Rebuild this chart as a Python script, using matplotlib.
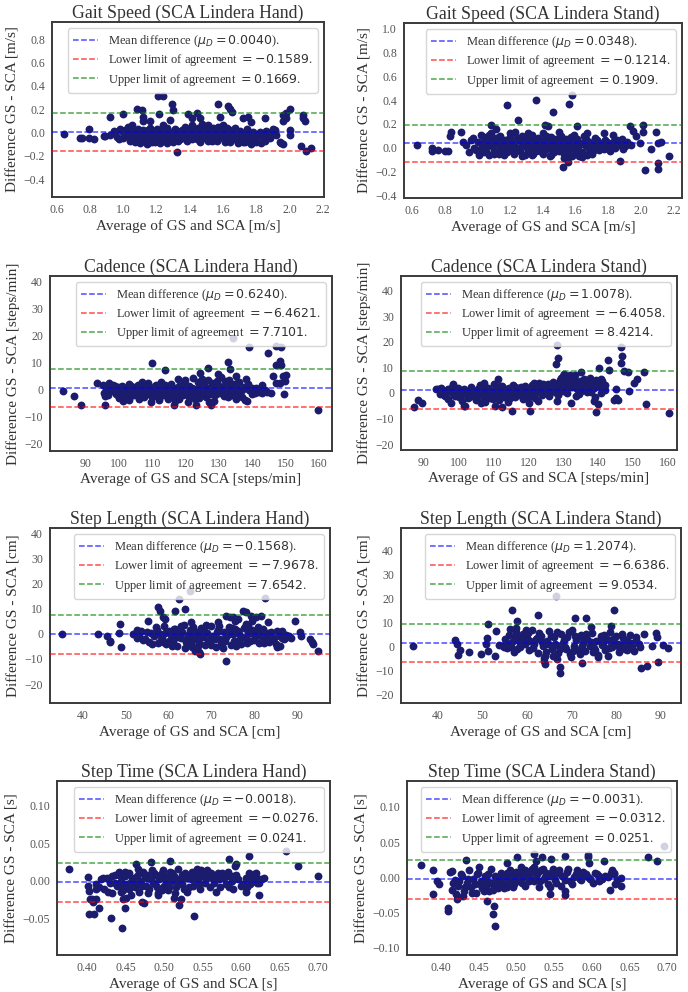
import numpy as np
import matplotlib
matplotlib.use("Agg")
import matplotlib.pyplot as plt

# (average, difference) pairs

# Gait speed, SCA Lindera hand
gs_hand = [
    (0.64, -0.01), (0.736, -0.05), (0.75, -0.05), (0.79, -0.05), (0.79, 0.03), (0.82, -0.06),
    (0.88, -0.03), (0.92, 0.13), (1.0, 0.16), (1.08, 0.20), (1.11, 0.19), (1.12, 0.13),
    (1.12, 0.10), (1.16, 0.10), (1.21, 0.31), (1.24, 0.31), (1.216, 0.16), (1.24, 0.06),
    (1.29, 0.24), (1.30, 0.19), (1.28, 0.105), (1.32, -0.17), (1.39, 0.16), (1.41, 0.12),
    (1.44, 0.17), (1.46, 0.12), (1.57, 0.245), (1.58, 0.13), (1.63, 0.23), (1.64, 0.2),
    (1.65, 0.175), (1.72, 0.12), (1.75, 0.13), (1.77, 0.09), (1.85, 0.12), (1.91, 0.02),
    (1.96, 0.10), (1.97, 0.13), (1.98, 0.17), (1.96, 0.15), (1.98, 0.12), (2.0, 0.20),
    (2.0, 0.02), (2.0, -0.02), (1.95, -0.09), (1.96, -0.1), (2.08, 0.15), (2.08, 0.12),
    (2.09, 0.1), (2.07, -0.12), (2.1, -0.16), (2.13, -0.13),
    (0.89, -0.03), (0.92, -0.02), (0.94, 0.01), (0.96, -0.04), (0.98, 0.03), (1.0, -0.05),
    (1.01, 0.02), (1.02, -0.01), (1.03, 0.05), (1.04, -0.07), (1.05, 0.06), (1.06, -0.03),
    (1.07, 0.0), (1.08, -0.06), (1.09, 0.03), (1.10, -0.09), (1.11, -0.02), (1.12, 0.02),
    (1.12, -0.07), (1.13, -0.04), (1.14, 0.01), (1.14, -0.1), (1.15, -0.06), (1.16, 0.04),
    (1.16, -0.02), (1.17, -0.08), (1.18, 0.0), (1.19, -0.05), (1.2, 0.03), (1.21, -0.03),
    (1.22, -0.09), (1.23, 0.01), (1.24, -0.06), (1.25, -0.02), (1.26, 0.04), (1.27, -0.07),
    (1.28, -0.03), (1.29, 0.0), (1.30, -0.08), (1.31, 0.03), (1.32, -0.04), (1.33, -0.01),
    (1.34, -0.06), (1.35, 0.02), (1.36, -0.03), (1.37, 0.05), (1.38, -0.07), (1.39, 0.0),
    (1.40, -0.04), (1.41, 0.06), (1.42, -0.02), (1.43, 0.02), (1.44, -0.06), (1.45, 0.04),
    (1.46, -0.01), (1.47, 0.07), (1.48, -0.05), (1.49, 0.01), (1.50, 0.05), (1.51, -0.03),
    (1.52, 0.02), (1.53, -0.07), (1.54, 0.04), (1.55, -0.02), (1.56, 0.0), (1.57, -0.06),
    (1.58, 0.03), (1.59, -0.03), (1.60, 0.06), (1.61, -0.08), (1.62, 0.0), (1.63, -0.04),
    (1.64, 0.02), (1.66, -0.06), (1.67, 0.04), (1.68, -0.02), (1.69, -0.09), (1.70, 0.01),
    (1.72, -0.05), (1.73, -0.08), (1.74, 0.03), (1.76, -0.03), (1.77, -0.1), (1.78, 0.0),
    (1.80, -0.06), (1.81, -0.02), (1.83, -0.09), (1.84, -0.04), (1.86, 0.01), (1.88, -0.05),
    (1.90, 0.03), (1.92, -0.02), (1.94, -0.08),
    (0.95, 0.0), (0.97, -0.06), (0.99, 0.01), (1.01, -0.03), (1.03, -0.02), (1.05, 0.02),
    (1.07, -0.08), (1.09, -0.01), (1.10, 0.01), (1.11, -0.05), (1.13, 0.0), (1.14, -0.03),
    (1.15, -0.09), (1.15, 0.02), (1.17, -0.04), (1.18, -0.06), (1.19, 0.01), (1.20, -0.07),
    (1.22, -0.02), (1.23, -0.05), (1.25, 0.02), (1.26, -0.09), (1.27, 0.0), (1.29, -0.05),
    (1.30, -0.02), (1.32, 0.01), (1.33, -0.07), (1.35, -0.05), (1.36, 0.01), (1.38, -0.02),
    (1.40, 0.03), (1.41, -0.06), (1.43, -0.04), (1.44, 0.0), (1.46, -0.08), (1.47, 0.02),
    (1.48, 0.04), (1.50, -0.02), (1.51, 0.06), (1.52, -0.05), (1.53, 0.01), (1.55, 0.03),
    (1.56, -0.07), (1.58, -0.01), (1.59, 0.02), (1.61, -0.04), (1.62, 0.04), (1.64, -0.08),
    (1.65, -0.02), (1.67, 0.0), (1.69, -0.05), (1.71, -0.01), (1.72, -0.08), (1.74, -0.03),
    (1.75, 0.01), (1.77, -0.06), (1.79, -0.03), (1.80, -0.08), (1.82, 0.0), (1.85, -0.07),
    (1.87, -0.03), (1.89, 0.0), (1.10, -0.04), (1.13, 0.0), (1.16, -0.02), (1.19, -0.08),
    (1.22, -0.05), (1.45, 0.03), (1.48, 0.0), (1.51, -0.07), (1.54, -0.04), (1.57, 0.05),
]

# Gait speed, SCA Lindera stand
gs_stand = [
    (0.63, 0.02), (0.72, -0.005), (0.72, -0.03), (0.76, -0.02), (0.80, -0.03), (0.82, -0.03),
    (0.83, 0.10), (0.84, 0.13), (0.90, 0.13), (0.91, 0.05), (1.18, 0.36), (1.25, 0.23),
    (1.36, 0.40), (1.46, 0.30), (1.56, 0.37), (1.58, 0.44), (1.41, 0.19), (1.43, 0.18),
    (1.08, 0.19), (1.11, 0.16), (1.52, -0.16), (1.61, 0.18), (1.77, 0.12), (1.83, 0.11),
    (1.87, -0.11), (1.93, 0.18), (1.95, 0.14), (1.97, 0.1), (2.01, 0.19), (2.01, 0.13),
    (1.99, 0.04), (2.02, -0.19), (2.06, -0.01), (2.09, 0.13), (2.1, 0.04), (2.10, -0.13),
    (2.10, -0.18), (2.17, -0.07), (2.12, 0.05),
    (0.93, 0.02), (0.95, -0.04), (0.97, 0.08), (0.99, -0.02), (1.00, 0.05), (1.01, -0.06),
    (1.02, 0.11), (1.03, 0.0), (1.04, -0.04), (1.05, 0.07), (1.06, 0.03), (1.07, -0.06),
    (1.08, 0.12), (1.09, 0.01), (1.10, -0.03), (1.11, 0.08), (1.12, 0.04), (1.13, -0.05),
    (1.14, 0.10), (1.15, 0.0), (1.16, -0.06), (1.17, 0.06), (1.18, 0.02), (1.19, -0.02),
    (1.20, 0.09), (1.21, 0.04), (1.22, -0.05), (1.23, 0.13), (1.24, 0.0), (1.25, 0.06),
    (1.26, -0.03), (1.27, 0.10), (1.28, 0.02), (1.29, -0.06), (1.30, 0.07), (1.31, 0.03),
    (1.32, -0.01), (1.33, 0.11), (1.34, -0.05), (1.35, 0.05), (1.36, 0.01), (1.37, 0.08),
    (1.38, -0.03), (1.39, 0.04), (1.40, 0.12), (1.41, -0.02), (1.42, 0.06), (1.43, 0.0),
    (1.44, -0.07), (1.45, 0.09), (1.46, 0.03), (1.47, -0.04), (1.48, 0.07), (1.49, 0.01),
    (1.50, -0.03), (1.51, 0.10), (1.52, 0.04), (1.53, -0.09), (1.53, -0.05), (1.54, 0.02),
    (1.55, -0.12), (1.55, 0.06), (1.56, -0.02), (1.57, 0.09), (1.58, -0.07), (1.59, 0.03),
    (1.60, 0.0), (1.61, 0.07), (1.62, -0.03), (1.63, 0.04), (1.64, -0.08), (1.65, 0.1),
    (1.66, 0.01), (1.67, -0.06), (1.68, 0.05), (1.70, 0.02), (1.71, -0.02), (1.72, 0.08),
    (1.74, 0.0), (1.75, 0.04), (1.77, -0.01), (1.78, 0.06), (1.80, 0.02), (1.81, -0.03),
    (1.83, 0.05), (1.84, 0.0), (1.86, 0.03), (1.88, 0.07), (1.90, 0.01), (1.92, 0.03),
    (0.96, 0.06), (0.98, 0.0), (1.00, -0.02), (1.02, 0.04), (1.04, 0.09), (1.05, -0.03),
    (1.07, 0.02), (1.09, 0.06), (1.10, -0.05), (1.11, 0.03), (1.13, 0.09), (1.14, -0.01),
    (1.15, 0.05), (1.17, 0.02), (1.18, -0.04), (1.19, 0.07), (1.21, 0.0), (1.22, 0.04),
    (1.24, 0.08), (1.25, -0.02), (1.27, 0.03), (1.28, 0.06), (1.30, 0.0), (1.31, -0.04),
    (1.32, 0.05), (1.34, 0.08), (1.35, 0.02), (1.36, -0.03), (1.38, 0.06), (1.39, 0.01),
    (1.40, -0.05), (1.42, 0.03), (1.43, 0.09), (1.44, 0.0), (1.46, 0.05), (1.47, -0.02),
    (1.48, 0.02), (1.50, 0.08), (1.51, -0.01), (1.52, 0.04), (1.53, -0.03), (1.54, 0.07),
    (1.55, 0.0), (1.56, -0.07), (1.57, 0.04), (1.58, 0.01), (1.60, -0.03), (1.61, 0.05),
    (1.62, 0.02), (1.64, -0.04), (1.65, 0.03), (1.66, 0.07), (1.68, -0.01), (1.69, 0.04),
    (1.71, 0.01), (1.73, 0.06), (1.74, -0.02), (1.76, 0.03), (1.78, 0.0), (1.79, 0.05),
    (1.82, 0.01), (1.85, 0.06), (1.87, 0.02), (1.89, -0.01), (1.91, 0.05), (1.94, 0.02),
    (1.27, -0.07), (1.33, -0.06), (1.45, -0.06), (1.62, -0.07), (1.70, -0.05), (1.07, 0.11),
    (1.20, 0.12), (1.31, 0.12), (1.42, 0.10), (1.50, 0.13), (1.59, 0.11), (1.67, 0.12),
]

# Cadence, SCA Lindera hand
cad_hand = [
    (83.0, -0.5), (86.3, -2.3), (88.6, -5.4), (93.3, 2.6), (95.6, -5.4), (100.0, -3.0),
    (109.8, 10.0), (113.8, 7.5), (116.3, -5.4), (123.0, -5.4), (127.4, -5.4), (124.2, 6.3),
    (126.7, 8.1), (129.7, 5.9), (132.7, 10.4), (133.2, 7.9), (134.2, 19.3), (135.2, 5.0),
    (136.0, 3.0), (139.0, 15.8), (144.7, 13.7), (146.2, 5.0), (145.7, -1.1), (147.0, 9.4),
    (147.0, 2.6), (147.2, 16.4), (148.2, 10.6), (148.5, 9.4), (148.5, 15.9), (149.2, 5.0),
    (149.4, -1.4), (149.7, 3.2), (150.2, 5.7), (159.7, -7.3), (148.2, 2.6),
    (95.2, 1.8), (95.5, -1.0), (96.0, 0.5), (96.5, -2.0), (97.0, 1.2), (97.5, -0.5),
    (98.0, 2.0), (98.5, 0.0), (99.0, -1.5), (99.5, 1.0), (100.0, -0.8), (100.5, 0.4),
    (101.0, -4.0), (101.5, -2.5), (102.0, 0.8), (102.5, -1.2), (103.0, -3.8), (103.5, 1.5),
    (104.0, -0.5), (104.5, -2.0), (105.0, 0.3), (105.5, 2.0), (106.0, -3.5), (106.5, -1.0),
    (107.0, 1.0), (107.5, -2.8), (108.0, 0.0), (108.5, 2.5), (109.0, -1.5), (109.5, -4.5),
    (110.0, 0.6), (110.5, -2.2), (111.0, 1.8), (111.5, -0.8), (112.0, -3.0), (112.5, 3.0),
    (113.0, 0.0), (113.5, -1.8), (114.0, 1.2), (114.5, -3.5), (115.0, -0.5), (115.5, 2.2),
    (116.0, -2.5), (116.5, 0.8), (117.0, -1.2), (117.5, 4.0), (118.0, -3.2), (118.5, 0.2),
    (119.0, -1.8), (119.5, 2.6), (120.0, -0.4), (120.5, -4.6), (121.0, 1.4), (121.5, -2.0),
    (122.0, 4.6), (122.5, 0.4), (123.0, -1.5), (123.5, 2.8), (124.0, -3.0), (124.5, 0.0),
    (125.0, -1.0), (125.5, 1.8), (126.0, -2.8), (126.5, 3.8), (127.0, 0.6), (127.5, -1.6),
    (128.0, 2.4), (128.5, -4.0), (129.0, 0.2), (129.5, 3.4), (130.0, -1.2), (130.5, 4.8),
    (131.0, 1.2), (131.5, -2.4), (132.0, 2.0), (132.5, -0.6), (133.0, 3.6), (133.5, 0.0),
    (134.0, -1.8), (134.5, 2.2), (135.0, -3.2), (135.5, 0.6), (136.0, -1.0), (137.0, -2.6),
    (137.5, 1.0), (138.0, 4.2), (138.5, -4.2), (139.0, 0.0), (140.0, -1.4), (141.0, 0.6),
    (142.0, -0.8), (143.0, 1.8),
    (95.8, -2.2), (96.8, 2.4), (97.8, -0.2), (98.8, 1.6), (99.8, -2.6), (100.8, 1.4),
    (101.8, -0.6), (102.8, 2.2), (103.8, -1.8), (104.8, 1.0), (105.8, -0.8), (106.8, 2.8),
    (107.8, -1.6), (108.8, 0.6), (109.8, -2.6), (110.8, 1.6), (111.8, -3.6), (112.8, 0.4),
    (113.8, 2.0), (114.8, -1.6), (115.8, 0.0), (116.8, -4.2), (117.8, 1.6), (118.8, -0.6),
    (119.8, 3.6), (120.8, -2.8), (121.8, 0.6), (122.8, -3.4), (123.8, 1.2), (124.8, 4.0),
    (125.8, -0.2), (126.8, -4.4), (127.8, 1.0), (128.8, -2.0), (129.8, 2.0), (130.8, -0.6),
    (131.8, 3.2), (132.8, -2.8), (133.8, 1.4), (134.8, -0.4), (135.8, 3.0), (136.8, 0.0),
    (137.8, -3.8), (138.8, 2.2), (139.8, 0.8), (140.8, -1.0), (141.8, 0.4), (142.8, -1.0),
    (143.8, -0.2), (144.5, -0.6), (110.2, -1.0), (112.2, 1.0), (114.2, 0.2), (118.2, -0.8),
    (120.2, 0.8), (122.2, -0.6), (124.2, 1.8), (126.2, 0.4), (128.2, -0.8), (130.2, 0.4),
    (132.2, -1.4), (134.2, 0.6),
]

# Cadence, SCA Lindera stand
cad_stand = [
    (87.1, -5.4), (88.3, -2.7), (89.5, -3.8), (97.7, -4.0), (101.7, -5.0), (110.4, -5.0),
    (112.5, -5.6), (115.3, -6.9), (120.3, -6.9), (128.1, 18.7), (128.5, 13.8), (127.9, 11.5),
    (146.5, 18.1), (146.8, 14.5), (146.5, 11.9), (142.7, 12.9), (140.3, 9.7), (143.2, 9.0),
    (147.3, 8.6), (148.4, 8.2), (153.2, 8.2), (151.1, 5.6), (150.3, 3.8), (148.9, 0.8),
    (145.1, 1.4), (145.1, -1.8), (144.6, -2.9), (145.8, -2.9), (153.7, -4.4), (141.2, 1.4),
    (140.8, 0.1), (139.8, -4.4), (138.9, -3.1), (135.0, 8.2), (135.8, 5.6), (136.7, 4.3),
    (134.5, -0.5), (132.1, -3.8), (128.3, -3.1), (122.6, -3.1), (120.2, -3.8), (106.4, -3.8),
    (101.6, -5.0), (98.2, 3.4), (93.4, 1.7), (111.1, 5.6), (107.3, 4.0), (121.6, 4.0),
    (139.5, -7.4), (160.3, -7.8),
    (94.0, 1.5), (94.5, -0.5), (95.0, 2.0), (95.5, 0.2), (96.0, -1.0), (96.5, 1.0),
    (97.0, -2.2), (97.5, 0.6), (98.0, 2.2), (98.5, -0.8), (99.0, 1.2), (99.5, 0.0),
    (100.0, -1.6), (100.5, 0.8), (101.0, -3.0), (101.5, 1.6), (102.0, -0.4), (102.5, -2.0),
    (103.0, 0.6), (103.5, 2.4), (104.0, -1.2), (104.5, 0.2), (105.0, -2.6), (105.5, 1.4),
    (106.0, 3.0), (106.5, -0.6), (107.0, 1.0), (107.5, -3.4), (108.0, 0.0), (108.5, 2.0),
    (109.0, -1.8), (109.5, 0.8), (110.0, 3.4), (110.5, -0.8), (111.0, 1.6), (111.5, -2.6),
    (112.0, 0.4), (112.5, 2.6), (113.0, -1.4), (113.5, 0.6), (114.0, -3.6), (114.5, 1.8),
    (115.0, -0.2), (115.5, 3.2), (116.0, -1.6), (116.5, 0.8), (117.0, 2.0), (117.5, -0.8),
    (118.0, 1.2), (118.5, -2.4), (119.0, 2.6), (119.5, 0.0), (120.0, 1.6), (120.5, -1.0),
    (121.0, 3.2), (121.5, 0.4), (122.0, -1.8), (122.5, 2.2), (123.0, 4.0), (123.5, 0.8),
    (124.0, -0.6), (124.5, 2.8), (125.0, 1.0), (125.5, 3.6), (126.0, -1.2), (126.5, 2.0),
    (127.0, 4.4), (127.5, 0.4), (128.0, 2.8), (128.5, -0.6), (129.0, 5.0), (129.5, 1.6),
    (130.0, 6.6), (130.5, 3.0), (131.0, 0.0), (131.5, 4.6), (132.0, 7.2), (132.5, 2.2),
    (133.0, 5.4), (133.5, -1.0), (134.0, 3.2), (135.0, 0.8), (136.0, 4.2), (137.0, 2.2),
    (137.5, 5.8), (138.0, 0.4), (138.5, 3.6), (139.0, -1.4), (139.5, 5.0), (140.0, 2.6),
    (141.0, 4.6), (142.0, 3.0),
    (94.8, 0.6), (95.8, -0.6), (96.8, 1.6), (97.8, 0.2), (98.8, -1.2), (99.8, 1.8),
    (100.8, -0.2), (101.8, 0.8), (102.8, -1.4), (103.8, 1.0), (104.8, -0.4), (105.8, 2.0),
    (106.8, -1.6), (107.8, 1.4), (108.8, 0.0), (109.8, -2.2), (110.8, 1.0), (111.8, 2.8),
    (112.8, -0.6), (113.8, 1.6), (114.8, -2.0), (115.8, 0.6), (116.8, -0.8), (117.8, 2.4),
    (118.8, 0.4), (119.8, -1.4), (120.8, 1.8), (121.8, 0.0), (122.8, 2.8), (123.8, -0.4),
    (124.8, 1.6), (125.8, 0.2), (126.8, 3.0), (127.8, 1.2), (128.8, 3.8), (129.8, 0.6),
    (130.8, 5.2), (131.8, 2.4), (132.8, 6.4), (133.8, 1.6), (134.8, 4.6), (135.8, 2.6),
    (136.8, 0.4), (137.8, 3.6), (138.8, 1.8), (139.8, 3.0), (140.8, 5.6), (141.8, 1.2),
    (129.2, 6.0), (130.2, 7.4), (131.2, 5.6), (132.2, 4.0), (133.2, 7.2), (126.2, 1.4),
    (124.2, 3.4), (121.2, -0.6), (118.2, 1.0), (116.2, 2.2), (113.2, 0.0), (111.2, -0.8),
]

# Step length, SCA Lindera hand
sl_hand = [
    (35.2, -0.1), (43.5, -0.1), (45.5, -0.8), (46.2, -2.8), (46.2, -3.4), (48.3, 0.5),
    (48.7, 3.8), (48.9, -5.4), (51.7, -0.1), (52.5, 1.5), (52.9, -0.8), (55.2, 5.2),
    (57.5, 10.5), (57.9, 9.1), (58.7, 6.5), (59.1, 5.8), (61.4, 9.1), (62.5, 14.0),
    (63.9, 10.0), (64.9, 17.0), (65.3, 4.8), (66.1, -6.8), (67.1, -7.4), (67.3, -8.1),
    (71.6, 4.5), (73.5, -10.7), (73.5, 7.2), (74.3, 6.5), (75.0, 6.5), (75.4, 5.0),
    (76.2, 5.8), (77.4, 9.1), (78.1, 8.5), (78.1, 4.0), (78.5, 3.2), (79.2, 7.0),
    (79.4, 5.2), (80.5, 6.5), (81.5, 7.2), (82.5, 14.4), (83.3, 4.5), (85.2, -5.4),
    (86.0, -4.8), (86.4, 1.2), (87.2, -1.6), (89.5, 5.2), (90.6, 0.8), (91.0, -0.8),
    (93.0, -2.1), (93.4, -3.4), (93.8, -4.1), (94.9, -6.8),
    (52.5, -1.5), (53.5, 1.0), (54.5, -2.0), (55.5, -3.2), (56.0, 0.5), (56.5, -1.0),
    (57.0, 2.5), (57.5, -3.5), (58.0, 0.0), (58.5, -1.8), (59.0, 3.0), (59.5, -4.2),
    (60.0, 1.2), (60.5, -0.6), (61.0, -2.8), (61.5, 2.0), (62.0, -5.0), (62.5, 0.4),
    (63.0, -1.6), (63.5, 3.5), (64.0, -3.4), (64.5, -0.4), (65.0, 1.6), (65.5, -5.2),
    (66.0, -2.0), (66.5, 0.8), (67.0, -3.8), (67.5, 2.4), (68.0, -1.2), (68.5, -4.6),
    (69.0, 0.2), (69.5, -2.6), (70.0, 3.2), (70.5, -0.8), (71.0, -5.2), (71.5, 1.4),
    (72.0, -2.2), (72.5, -3.8), (73.0, 0.6), (73.5, -1.4), (74.0, 2.6), (74.5, -4.4),
    (75.0, -0.2), (75.5, 1.8), (76.0, -2.8), (76.5, 0.0), (77.0, -4.0), (77.5, 2.2),
    (78.0, -1.8), (78.5, 0.8), (79.0, -3.0), (79.5, 1.6), (80.0, -2.4), (80.5, 0.2),
    (81.0, -3.6), (81.5, -1.0), (82.0, 2.0), (82.5, -2.2), (83.0, -0.4), (83.5, -3.2),
    (84.0, 0.8), (84.5, -1.6), (85.0, -4.0), (86.0, -0.8), (87.0, -2.2), (88.0, -1.0),
    (53.0, -0.4), (54.0, -2.6), (55.0, 0.6), (56.2, -4.0), (57.2, 1.4), (58.2, -2.4),
    (59.2, 0.4), (60.2, -3.0), (61.2, 1.8), (62.2, -1.2), (63.2, 0.8), (64.2, -2.2),
    (65.2, -4.2), (66.2, 0.2), (67.2, -1.6), (68.2, 2.0), (69.2, -3.4), (70.2, -1.0),
    (71.2, 0.8), (72.2, -4.2), (73.2, -2.8), (74.2, 0.0), (75.2, -3.0), (76.2, 1.2),
    (77.2, -1.2), (78.2, -3.6), (79.2, 0.4), (80.2, -1.4), (81.2, 1.0), (82.2, -3.6),
    (83.2, 0.2), (84.2, -2.6), (85.2, 1.0), (86.5, -1.6), (87.5, -0.4), (88.5, -1.6),
    (60.8, -5.0), (63.8, -5.6), (66.8, -5.0), (69.8, -4.4), (72.8, -5.6), (75.8, -5.0),
    (62.8, 3.2), (65.8, 2.8), (68.8, 3.6), (71.8, 3.0), (74.8, 2.2), (77.8, 2.8),
    (80.8, 2.6), (58.8, -3.4), (61.8, -0.2), (64.8, -0.8), (67.8, 0.4), (70.8, -2.0),
]

# Step length, SCA Lindera stand
sl_stand = [
    (34.5, -0.1), (43.9, 2.6), (44.3, 0.8), (44.9, -1.5), (44.6, -3.8), (46.9, -2.4),
    (49.7, -3.3), (51.2, 9.2), (51.1, 3.2), (51.2, -1.9), (50.8, 0.8), (52.9, -4.0),
    (53.1, 6.4), (53.6, 0.4), (54.7, -0.2), (56.6, 15.1), (57.8, 10.6), (56.2, 7.0),
    (57.4, 7.6), (62.4, 12.9), (63.8, -6.1), (64.1, -7.5), (66.8, -5.4), (66.4, 20.7),
    (67.4, -8.9), (67.4, -11.3), (70.7, 11.7), (73.3, 11.9), (74.4, 7.8), (72.4, -7.1),
    (79.4, 15.1), (78.8, 8.5), (78.2, -4.0), (83.3, -0.6), (85.5, -9.2), (86.9, -8.2),
    (86.3, 5.0), (88.9, 5.3), (89.2, 3.6), (89.4, -6.5), (88.0, 0.0), (90.4, 0.4),
    (91.7, -1.0),
    (54.5, 0.0), (55.0, 3.0), (55.5, -1.0), (56.0, 4.5), (56.5, 1.5), (57.0, -2.5),
    (57.5, 6.0), (58.0, 2.5), (58.5, -0.5), (59.0, 5.2), (59.5, 1.0), (60.0, 3.4),
    (60.5, -1.8), (61.0, 6.5), (61.5, 0.8), (62.0, 2.8), (62.5, -3.0), (63.0, 4.4),
    (63.5, 0.2), (64.0, -4.2), (64.5, 2.2), (65.0, 6.2), (65.5, -1.4), (66.0, 3.6),
    (66.5, 0.4), (67.0, -2.8), (67.5, 5.0), (68.0, 1.2), (68.5, -0.6), (69.0, 3.8),
    (69.5, -3.4), (70.0, 6.8), (70.5, 0.0), (71.0, 2.4), (71.5, -1.8), (72.0, 4.6),
    (72.5, 1.4), (73.0, -2.2), (73.5, 3.0), (74.0, 0.2), (74.5, 5.4), (75.0, -1.0),
    (75.5, 2.0), (76.0, -3.6), (76.5, 4.0), (77.0, 0.8), (77.5, -1.6), (78.0, 2.8),
    (78.5, 6.0), (79.0, -0.4), (79.5, 1.8), (80.0, 4.2), (80.5, -2.6), (81.0, 0.6),
    (81.5, 3.4), (82.0, -1.2), (82.5, 2.2), (83.0, 4.8), (83.5, 0.0), (84.0, -2.0),
    (84.5, 2.6), (85.0, 0.8),
    (55.3, 1.2), (56.3, -0.4), (57.3, 3.6), (58.3, 0.4), (59.3, 2.6), (60.3, 5.6),
    (61.3, -0.8), (62.3, 3.2), (63.3, 1.8), (64.3, -2.6), (65.3, 4.0), (66.3, 1.0),
    (67.3, -1.2), (68.3, 2.6), (69.3, 5.8), (70.3, -2.0), (71.3, 3.6), (72.3, 0.0),
    (73.3, 5.2), (74.3, 1.6), (75.3, -1.8), (76.3, 2.4), (77.3, 4.6), (78.3, -0.8),
    (79.3, 3.0), (80.3, 1.0), (81.3, 5.0), (82.3, -1.6), (83.3, 1.4), (84.3, 3.6),
    (85.3, -0.6), (58.7, 4.0), (59.7, 6.6), (60.7, 2.0), (62.7, 5.6), (64.7, 0.8),
    (66.7, 6.0), (68.7, -1.4), (70.7, 4.2), (72.7, 2.8), (74.7, -2.6), (76.7, 0.6),
    (78.7, 1.8), (80.7, -0.2), (82.7, 0.6), (57.8, -1.2), (63.8, -5.0), (65.8, -4.2),
    (69.8, -4.6), (71.8, -3.2), (75.8, -4.4),
]

# Step time, SCA Lindera hand
st_hand = [
    (0.377, 0.016), (0.401, 0.005), (0.401, -0.006), (0.403, -0.013), (0.404, -0.024),
    (0.403, -0.044), (0.409, -0.044), (0.407, -0.024), (0.408, -0.028), (0.412, -0.011),
    (0.412, -0.024), (0.416, -0.036), (0.431, -0.049), (0.445, -0.062), (0.449, -0.035),
    (0.447, -0.024), (0.451, -0.022), (0.464, 0.022), (0.471, -0.027), (0.474, -0.029),
    (0.483, 0.025), (0.492, -0.018), (0.508, 0.026), (0.513, -0.022), (0.520, -0.032),
    (0.522, -0.024), (0.539, -0.046), (0.543, 0.016), (0.559, 0.011), (0.570, 0.011),
    (0.578, 0.007), (0.585, 0.029), (0.592, 0.020), (0.593, 0.022), (0.585, -0.008),
    (0.590, 0.007), (0.602, -0.004), (0.604, -0.006), (0.607, -0.015), (0.610, 0.033),
    (0.611, 0.011), (0.613, 0.007), (0.617, 0.009), (0.619, 0.004), (0.621, -0.002),
    (0.624, -0.019), (0.658, 0.039), (0.674, 0.020), (0.700, 0.007),
    (0.412, -0.004), (0.418, 0.002), (0.422, -0.010), (0.426, 0.004), (0.430, -0.002),
    (0.433, -0.016), (0.436, 0.008), (0.439, -0.006), (0.442, 0.012), (0.444, 0.000),
    (0.447, -0.012), (0.449, 0.006), (0.452, -0.004), (0.455, 0.010), (0.457, -0.018),
    (0.460, 0.002), (0.462, -0.008), (0.465, 0.006), (0.468, -0.014), (0.470, 0.000),
    (0.473, 0.012), (0.476, -0.006), (0.478, 0.004), (0.481, -0.010), (0.484, 0.014),
    (0.486, -0.002), (0.489, 0.008), (0.492, -0.016), (0.494, 0.002), (0.497, 0.010),
    (0.500, -0.006), (0.502, 0.004), (0.505, -0.012), (0.508, 0.012), (0.510, 0.000),
    (0.513, 0.006), (0.516, -0.008), (0.518, 0.016), (0.521, 0.002), (0.524, -0.004),
    (0.527, 0.010), (0.530, -0.014), (0.532, 0.004), (0.535, 0.008), (0.538, -0.006),
    (0.541, 0.012), (0.544, 0.000), (0.547, -0.010), (0.550, 0.006), (0.553, -0.002),
    (0.556, 0.014), (0.560, -0.008), (0.563, 0.004), (0.567, -0.014), (0.571, 0.002),
    (0.575, 0.010), (0.580, -0.004), (0.585, 0.006), (0.590, -0.010), (0.596, 0.002),
    (0.602, -0.004), (0.608, -0.008), (0.614, 0.004), (0.620, 0.010), (0.626, 0.002),
    (0.630, 0.004),
    (0.415, -0.008), (0.421, 0.004), (0.427, -0.014), (0.432, 0.006), (0.437, -0.002),
    (0.441, 0.008), (0.446, -0.006), (0.450, 0.012), (0.454, -0.010), (0.459, 0.004),
    (0.463, -0.002), (0.467, 0.010), (0.471, -0.006), (0.475, 0.006), (0.479, -0.016),
    (0.483, 0.002), (0.487, 0.010), (0.491, -0.008), (0.495, 0.004), (0.499, 0.014),
    (0.503, 0.000), (0.507, -0.008), (0.511, 0.010), (0.515, 0.002), (0.519, -0.002),
    (0.523, 0.008), (0.528, 0.004), (0.533, -0.008), (0.537, 0.012), (0.542, 0.004),
    (0.546, -0.004), (0.551, 0.010), (0.555, 0.002), (0.561, 0.010), (0.565, -0.002),
    (0.569, 0.006), (0.573, -0.008), (0.578, 0.004), (0.583, 0.012), (0.588, 0.000),
    (0.594, 0.008), (0.600, -0.006), (0.606, 0.004), (0.612, -0.004), (0.618, 0.008),
    (0.624, -0.002), (0.444, -0.014), (0.456, -0.002), (0.466, 0.016), (0.478, 0.008),
    (0.488, -0.004), (0.498, -0.012), (0.506, 0.008), (0.514, -0.016), (0.526, -0.010),
    (0.536, 0.002), (0.548, 0.014),
]

# Step time, SCA Lindera stand
st_stand = [
    (0.373, 0.017), (0.390, 0.010), (0.390, -0.024), (0.395, -0.006), (0.397, -0.010),
    (0.409, -0.044), (0.409, -0.049), (0.412, 0.008), (0.415, 0.009), (0.433, 0.025),
    (0.421, -0.031), (0.423, -0.029), (0.429, -0.027), (0.451, 0.015), (0.461, -0.034),
    (0.469, -0.052), (0.471, -0.041), (0.472, -0.069), (0.488, 0.020), (0.501, 0.028),
    (0.524, 0.033), (0.526, 0.023), (0.534, 0.028), (0.546, 0.026), (0.544, -0.024),
    (0.565, -0.020), (0.565, -0.025), (0.565, 0.030), (0.595, 0.032), (0.595, 0.029),
    (0.596, 0.020), (0.589, 0.002), (0.610, 0.002), (0.612, -0.002), (0.616, 0.023),
    (0.624, -0.019), (0.627, 0.010), (0.629, 0.004), (0.631, -0.010), (0.639, -0.001),
    (0.639, -0.013), (0.674, 0.029), (0.686, 0.023), (0.696, 0.044),
    (0.414, -0.018), (0.418, -0.004), (0.422, -0.012), (0.426, 0.004), (0.430, -0.020),
    (0.434, -0.008), (0.437, 0.010), (0.440, -0.014), (0.443, -0.002), (0.446, -0.022),
    (0.449, 0.006), (0.452, -0.010), (0.455, -0.016), (0.458, 0.002), (0.461, -0.006),
    (0.464, -0.020), (0.467, 0.012), (0.470, -0.012), (0.473, -0.002), (0.476, -0.016),
    (0.479, 0.006), (0.482, -0.008), (0.485, 0.002), (0.488, -0.014), (0.491, 0.010),
    (0.494, -0.004), (0.497, -0.010), (0.500, 0.004), (0.503, -0.006), (0.506, 0.014),
    (0.509, 0.000), (0.512, -0.012), (0.515, 0.008), (0.518, -0.002), (0.521, 0.012),
    (0.524, -0.006), (0.527, 0.004), (0.530, -0.014), (0.533, 0.010), (0.536, -0.002),
    (0.539, 0.006), (0.542, -0.010), (0.545, 0.002), (0.548, 0.012), (0.551, -0.004),
    (0.555, 0.006), (0.559, -0.012), (0.563, 0.002), (0.567, 0.008), (0.571, -0.006),
    (0.576, 0.000), (0.581, 0.010), (0.586, -0.004), (0.592, 0.004), (0.598, -0.002),
    (0.604, 0.006), (0.610, -0.006), (0.618, 0.002), (0.626, 0.006), (0.633, -0.004),
    (0.416, -0.008), (0.420, -0.024), (0.424, -0.006), (0.428, 0.002), (0.432, -0.014),
    (0.436, -0.002), (0.441, -0.022), (0.445, -0.010), (0.448, 0.004), (0.453, -0.006),
    (0.457, -0.020), (0.460, -0.012), (0.463, 0.004), (0.466, -0.008), (0.469, -0.018),
    (0.472, 0.002), (0.475, -0.008), (0.478, -0.012), (0.481, 0.000), (0.484, -0.016),
    (0.487, 0.006), (0.490, -0.006), (0.493, 0.002), (0.496, -0.014), (0.499, 0.008),
    (0.502, -0.002), (0.505, 0.004), (0.508, -0.008), (0.511, 0.010), (0.514, 0.002),
    (0.517, -0.006), (0.520, 0.006), (0.523, 0.014), (0.526, -0.002), (0.529, 0.008),
    (0.532, -0.006), (0.535, 0.012), (0.538, 0.000), (0.541, 0.004), (0.544, -0.014),
    (0.547, 0.008), (0.550, 0.002), (0.553, -0.008), (0.557, 0.010), (0.561, 0.002),
    (0.565, -0.004), (0.569, 0.012), (0.574, -0.010), (0.579, 0.004), (0.584, -0.002),
    (0.589, 0.008), (0.595, 0.000), (0.601, -0.008), (0.607, 0.004), (0.614, -0.002),
    (0.622, 0.000), (0.630, 0.006),
]

titles = ["Gait Speed (SCA Lindera Hand)", "Gait Speed (SCA Lindera Stand)",
          "Cadence (SCA Lindera Hand)", "Cadence (SCA Lindera Stand)",
          "Step Length (SCA Lindera Hand)", "Step Length (SCA Lindera Stand)",
          "Step Time (SCA Lindera Hand)", "Step Time (SCA Lindera Stand)"]
units = ["m/s", "m/s", "steps/min", "steps/min", "cm", "cm", "s", "s"]
mean_diff = [0.0040, 0.0348, 0.6240, 1.0078, -0.1568, 1.2074, -0.0018, -0.0031]
lower_loa = [-0.1589, -0.1214, -6.4621, -6.4058, -7.9678, -6.6386, -0.0276, -0.0312]
upper_loa = [0.1669, 0.1909, 7.7101, 8.4214, 7.6542, 9.0534, 0.0241, 0.0251]

panels = [gs_hand, gs_stand, cad_hand, cad_stand, sl_hand, sl_stand, st_hand, st_stand]

# layout: axes boxes [left, bottom, width, height] in figure fraction
boxes = [[0.0756, 0.8014, 0.3953, 0.1764], [0.5872, 0.8004, 0.4041, 0.1764],
         [0.0727, 0.5454, 0.4099, 0.1764], [0.5828, 0.5464, 0.4012, 0.1754],
         [0.0727, 0.2913, 0.4070, 0.1764], [0.5828, 0.2913, 0.4070, 0.1764],
         [0.0828, 0.0373, 0.3968, 0.1754], [0.5916, 0.0373, 0.3924, 0.1754]]
xlims = [(0.57, 2.206), (0.551, 2.249), (79.2, 163.9), (83.4, 162.6),
         (32.3, 97.7), (31.7, 94.5), (0.361, 0.7156), (0.355, 0.713)]
ylims = [(-0.554, 0.946), (-0.425, 1.05), (-22.6, 42.2), (-22.3, 45.8),
         (-27.5, 42.0), (-23.75, 49.2), (-0.0974, 0.1316), (-0.111, 0.137)]
xticks = [np.arange(0.6, 2.21, 0.2), np.arange(0.6, 2.21, 0.2), np.arange(90, 161, 10),
          np.arange(90, 161, 10), np.arange(40, 91, 10), np.arange(40, 91, 10),
          np.arange(0.40, 0.701, 0.05), np.arange(0.40, 0.701, 0.05)]
yticks = [np.arange(-0.4, 0.81, 0.2), np.arange(-0.4, 1.01, 0.2), np.arange(-20, 41, 10),
          np.arange(-20, 41, 10), np.arange(-20, 41, 10), np.arange(-20, 41, 10),
          np.arange(-0.05, 0.101, 0.05), np.arange(-0.10, 0.101, 0.05)]
xfmt = ["{:.1f}", "{:.1f}", "{:.0f}", "{:.0f}", "{:.0f}", "{:.0f}", "{:.2f}", "{:.2f}"]
yfmt = ["{:.1f}", "{:.1f}", "{:.0f}", "{:.0f}", "{:.0f}", "{:.0f}", "{:.2f}", "{:.2f}"]


def fmt_tick(f, v):
    s = f.format(v + 0.0)
    if s.lstrip("-").strip("0.") == "":
        s = s.lstrip("-")
    return s.replace("-", "\u2212")


plt.rcParams["font.family"] = ["Liberation Serif", "DejaVu Serif"]
plt.rcParams["mathtext.fontset"] = "dejavusans"

fig = plt.figure(figsize=(6.88, 9.92), dpi=100)

for i in range(8):
    ax = fig.add_axes(boxes[i])
    pts = np.array(panels[i])
    ax.scatter(pts[:, 0], pts[:, 1], s=32, color="#1c1c6e", linewidths=0, zorder=2)
    ax.axhline(mean_diff[i], color="blue", ls="--", lw=1.1, alpha=0.7, zorder=3,
               label=r"Mean difference ($\mu_D = %.4f$)." % mean_diff[i])
    ax.axhline(lower_loa[i], color="red", ls="--", lw=1.1, alpha=0.7, zorder=3,
               label=r"Lower limit of agreement $= %.4f$." % lower_loa[i])
    ax.axhline(upper_loa[i], color="green", ls="--", lw=1.1, alpha=0.7, zorder=3,
               label=r"Upper limit of agreement $= %.4f$." % upper_loa[i])
    ax.set_xlim(xlims[i])
    ax.set_ylim(ylims[i])
    ax.set_xticks(xticks[i])
    ax.set_xticklabels([fmt_tick(xfmt[i], v) for v in xticks[i]])
    ax.set_yticks(yticks[i])
    ax.set_yticklabels([fmt_tick(yfmt[i], v) for v in yticks[i]])
    ax.tick_params(length=0, labelsize=8.5, labelcolor="#555555", pad=5)
    for sp in ax.spines.values():
        sp.set_color("#3a3a3a")
        sp.set_linewidth(1.4)
    ax.set_title(titles[i], fontsize=12.8, color="#333333", pad=3)
    ax.set_xlabel("Average of GS and SCA [%s]" % units[i], fontsize=11, color="#333333", labelpad=2)
    ax.set_ylabel("Difference GS - SCA [%s]" % units[i], fontsize=11, color="#333333", labelpad=3)
    leg = ax.legend(loc="upper right", fontsize=9, framealpha=0.8, edgecolor="#cccccc",
                    borderaxespad=0.5, labelspacing=0.25)
    for t in leg.get_texts():
        t.set_color("#333333")

fig.savefig("out.png", dpi=100)
